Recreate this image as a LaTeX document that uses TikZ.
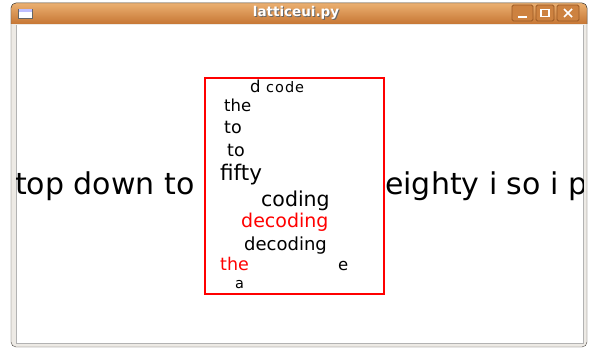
\documentclass[tikz,border=0pt]{standalone}
\usepackage{fontspec}
\setmainfont{DejaVu Sans}
\definecolor{barlight}{HTML}{EBB071}
\definecolor{bardark}{HTML}{C67634}
\definecolor{framegray}{HTML}{EDEAE5}
\definecolor{frameline}{HTML}{4B4640}
\definecolor{btnline}{HTML}{9A5A24}
\definecolor{latticered}{HTML}{FF0000}

\begin{document}
\begin{tikzpicture}[x=1pt,y=-1pt,
  word node/.style={anchor=base west,inner sep=0pt,text=black},
  red node/.style={word node,text=latticered},
  sz/.style={font=\fontsize{#1}{#1}\selectfont},
  btn box/.style={draw=btnline,fill=bardark!80!barlight,rounded corners=1.5pt,line width=0.8pt},
  btn mark/.style={draw=white,line width=1.6pt}]
                \useasboundingbox (0,0) rectangle (591,352);
                % window frame
                \draw[frameline,fill=framegray,rounded corners=5pt] (11,3) rectangle (587,347);
                \fill[top color=barlight,bottom color=bardark] (11,24) [rounded corners=5pt]-- (11,3) -- (587,3) [sharp corners]-- (587,24) -- cycle;
                \draw[frameline,rounded corners=5pt] (11,24) -- (11,3) -- (587,3) -- (587,24);
                \fill[white] (16,25) rectangle (583,343);
                \draw[gray!60] (16,25) -- (16,343) -- (583,343) -- (583,25);
                \node[font=\fontsize{13.5}{13.5}\selectfont\bfseries,text=black!60] (titleshadow) at (297,14) {latticeui.py};
                \node[font=\fontsize{13.5}{13.5}\selectfont\bfseries,text=white] (title) at (296,13) {latticeui.py};
                % window icon and buttons
                \draw[gray!80!black,fill=white] (18,9) rectangle (32,18);
                \fill[blue!25] (18.5,9.5) rectangle (31.5,12);
                \draw[btn box] (512,5) rectangle (533,21);
                \draw[btn box] (536,5) rectangle (554,21);
                \draw[btn box] (557,5) rectangle (579,21);
                \draw[btn mark] (518,17) -- (527,17);
                \draw[draw=white,line width=1.2pt] (541,9.5) rectangle (549,16.5);
                \draw[btn mark] (564,9) -- (572,17) (572,9) -- (564,17);
                % lattice text
                \begin{scope}
                \clip (16,25) rectangle (583,343);
                \node[word node,sz=30] (left) at (15,195) {top down to};
                \node[word node,sz=30] (right) at (385,195) {eighty i so i p};
                \end{scope}
                \draw[latticered,line width=1.6pt] (205,78) rectangle (384,294);
                \node[word node,sz=16.5] (d) at (250,93) {d};
                \node[word node,sz=14.5] (code) at (266,93) {c\kern1pt o\kern1pt d\kern1pt e};
                \node[word node,sz=16.5] (the1) at (224,112) {the};
                \node[word node,sz=17.5] (to1) at (224,134) {to};
                \node[word node,sz=17.5] (to2) at (227,157) {to};
                \node[word node,sz=21.5] (fifty) at (220,181) {fifty};
                \node[word node,sz=20.5] (coding) at (261,207) {coding};
                \node[red node,sz=19] (decoding1) at (241,228) {decoding};
                \node[word node,sz=18] (decoding2) at (244,251) {decoding};
                \node[red node,sz=17.5] (the2) at (220,271) {the};
                \node[word node,sz=16.5] (e) at (338,271) {e};
                \node[word node,sz=14.5] (a) at (235,289) {a};
            \end{tikzpicture}
\end{document}
